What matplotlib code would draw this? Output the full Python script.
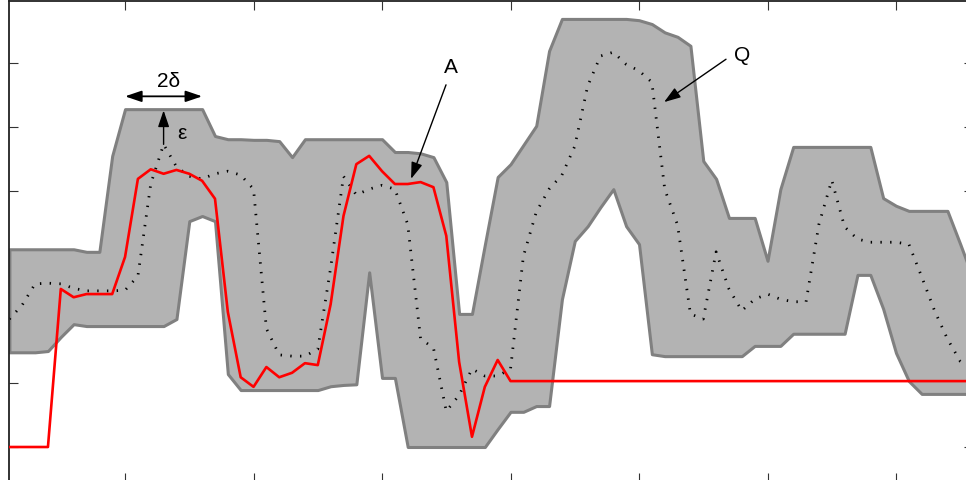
import numpy as np
import matplotlib
matplotlib.use('Agg')
import matplotlib.pyplot as plt

# sample index
x = np.arange(1, 77)

# upper / lower edge of the tolerance band
upper = [3.09, 3.09, 3.09, 3.09, 3.09, 3.09, 3.05, 3.05, 4.55, 5.28,
         5.28, 5.28, 5.28, 5.28, 5.28, 5.28, 4.86, 4.81, 4.81, 4.80,
         4.80, 4.78, 4.53, 4.81, 4.81, 4.81, 4.81, 4.81, 4.81, 4.81,
         4.61, 4.61, 4.59, 4.53, 4.14, 2.08, 2.08, 3.16, 4.22, 4.42,
         4.72, 5.02, 6.19, 6.69, 6.69, 6.69, 6.69, 6.69, 6.69, 6.67,
         6.61, 6.48, 6.41, 6.27, 4.47, 4.19, 3.58, 3.58, 3.58, 2.91,
         4.03, 4.69, 4.69, 4.69, 4.69, 4.69, 4.69, 4.69, 3.89, 3.77,
         3.69, 3.69, 3.69, 3.69, 3.17, 2.63]
lower = [1.48, 1.48, 1.48, 1.50, 1.72, 1.92, 1.89, 1.89, 1.89, 1.89,
         1.89, 1.89, 1.89, 2.00, 3.53, 3.61, 3.53, 1.14, 0.89, 0.89,
         0.89, 0.89, 0.89, 0.89, 0.89, 0.95, 0.97, 0.98, 2.73, 1.08,
         1.08, 0.00, 0.00, 0.00, 0.00, 0.00, 0.00, 0.00, 0.28, 0.55,
         0.55, 0.64, 0.64, 2.31, 3.22, 3.45, 3.75, 4.03, 3.45, 3.17,
         1.45, 1.42, 1.42, 1.42, 1.42, 1.42, 1.42, 1.42, 1.58, 1.58,
         1.58, 1.77, 1.77, 1.77, 1.77, 1.77, 2.69, 2.69, 2.16, 1.47,
         1.03, 0.83, 0.83, 0.83, 0.83, 0.83]

# query series Q (dotted)
q = [2.00, 2.22, 2.55, 2.56, 2.55, 2.48, 2.44, 2.44, 2.44, 2.45,
     2.67, 4.11, 4.73, 4.38, 4.23, 4.19, 4.27, 4.31, 4.25, 4.03,
     1.85, 1.44, 1.42, 1.42, 1.53, 2.80, 4.23, 3.94, 4.03, 4.09,
     4.03, 3.48, 1.69, 1.55, 0.56, 0.81, 1.22, 1.11, 1.11, 1.22,
     2.98, 3.67, 4.03, 4.25, 4.70, 5.64, 6.11, 6.17, 5.98, 5.88,
     5.70, 4.03, 3.47, 2.08, 2.00, 3.05, 2.47, 2.13, 2.31, 2.39,
     2.31, 2.27, 2.27, 3.48, 4.17, 3.44, 3.25, 3.20, 3.20, 3.20,
     3.17, 2.66, 2.13, 1.69, 1.34, 1.22]

# series A (red)
a = [0.00, 0.00, 0.00, 0.00, 2.47, 2.34, 2.39, 2.39, 2.39, 2.97,
     4.19, 4.34, 4.27, 4.33, 4.27, 4.16, 3.88, 2.11, 1.09, 0.94,
     1.25, 1.09, 1.16, 1.31, 1.28, 2.23, 3.61, 4.42, 4.55, 4.31,
     4.11, 4.11, 4.14, 4.06, 3.30, 1.33, 0.16, 0.94, 1.36, 1.03,
     1.03, 1.03, 1.03, 1.03, 1.03, 1.03, 1.03, 1.03, 1.03, 1.03,
     1.03, 1.03, 1.03, 1.03, 1.03, 1.03, 1.03, 1.03, 1.03, 1.03,
     1.03, 1.03, 1.03, 1.03, 1.03, 1.03, 1.03, 1.03, 1.03, 1.03,
     1.03, 1.03, 1.03, 1.03, 1.03, 1.03]

plt.rcParams['font.family'] = ['Liberation Sans', 'DejaVu Sans']

fig = plt.figure(figsize=(9.66, 4.81), dpi=100)
# axes runs a little past the right and bottom edge, as in the crop
ax = fig.add_axes([9.4 / 966, -2.2 / 481, 963.7 / 966, 481.2 / 481])

ax.fill_between(x, lower, upper, facecolor='#b3b3b3', edgecolor='#808080',
                linewidth=2.2, zorder=1)
ax.plot(x, q, color='k', lw=2.0, dashes=(0.5, 3.0), zorder=2)
ax.plot(x, a, color='red', lw=1.9, zorder=3)

ax.set_xlim(1, 76)
ax.set_ylim(-0.55, 6.97)
ax.set_xticks(range(10, 71, 10))
ax.set_yticks(range(0, 7))
ax.tick_params(direction='in', length=6.5, width=0.8, color='#333333',
               top=True, right=True, labelbottom=False, labelleft=False)
ax.set_axisbelow(True)
for s in ax.spines.values():
    s.set_linewidth(1.3)
    s.set_color('#222222')

head = '-|>,head_length=0.5,head_width=0.17'
arr = dict(arrowstyle=head, color='k', lw=1.0, mutation_scale=20,
           shrinkA=0, shrinkB=0)

# 2 delta
ax.annotate('', xy=(16.0, 5.48), xytext=(10.0, 5.48),
            arrowprops=dict(arrowstyle='<|-|>,head_length=0.5,head_width=0.17',
                            color='k', lw=1.3, mutation_scale=20,
                            shrinkA=0, shrinkB=0))
ax.text(13.35, 5.72, '2δ', ha='center', va='center', fontsize=15)

# epsilon
ax.annotate('', xy=(13.0, 5.26), xytext=(13.0, 4.73), arrowprops=arr)
ax.text(14.45, 4.92, 'ε', ha='center', va='center', fontsize=15)

# A
ax.annotate('', xy=(32.26, 4.19), xytext=(34.98, 5.66), arrowprops=arr)
ax.text(35.37, 5.94, 'A', ha='center', va='center', fontsize=15)

# Q
ax.annotate('', xy=(51.95, 5.39), xytext=(56.77, 6.06), arrowprops=arr)
ax.text(58.02, 6.14, 'Q', ha='center', va='center', fontsize=15)

fig.savefig('out.png', dpi=100)
